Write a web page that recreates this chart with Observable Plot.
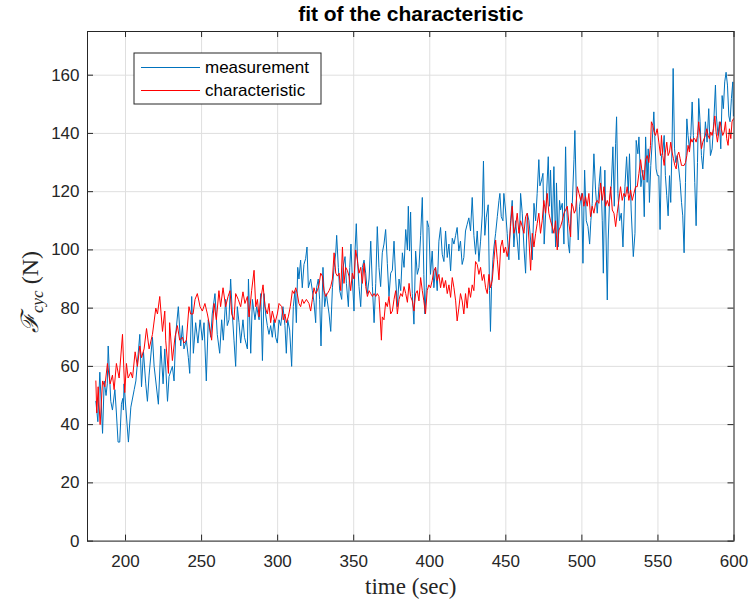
<!DOCTYPE html>
<html><head><meta charset="utf-8">
<script src="https://cdn.jsdelivr.net/npm/d3@7"></script>
<script src="https://cdn.jsdelivr.net/npm/@observablehq/plot@0.6"></script>
<style>
body{margin:0;background:#fff;}
#chart{width:751px;height:603px;}
</style></head><body><div id="chart"></div>
<script>
// [time (sec), force (N)]
const measurement = [
[180.5,48],[181.8,41],[183.1,58],[184.9,37],[186.0,55],[187.2,50],[188.0,54],[188.6,67],[190.3,48],[191.4,45],
[193.0,52],[194.0,44],[195.1,34],[196.2,34],[197.3,47],[198.2,49],[198.6,45],[199.0,54],[201.9,34],[203.5,46],
[205.7,52],[206.8,55],[209.4,71],[210.5,53],[211.8,65],[213.3,54],[214.4,48],[215.5,57],[217.7,70],[218.8,60],
[221.6,47],[223.2,67],[224.7,54],[225.8,66],[227.6,48],[228.6,56.5],[230.8,60],[231.9,55],[233.0,71],[234.7,80.5],
[236.3,67],[237.4,74],[238.4,66],[240.0,69],[241.3,63],[242.2,57.6],[243.5,84],[244.6,64.5],[246.1,75],[247.6,68],
[249.0,76],[250.5,69],[251.6,75],[253.1,55],[254.4,76],[256.0,70],[257.0,78],[258.8,85],[260.3,71],[261.9,64.5],
[263.2,76],[264.3,69],[265.8,83],[266.9,74],[268.0,76],[269.1,90],[270.2,78],[271.3,69],[272.4,60],[273.5,80.5],
[274.6,75],[275.7,68],[277.2,76],[278.2,70],[280.1,66],[280.8,90],[282.3,64.5],[283.4,83],[285.1,76],[286.2,80.5],
[287.8,76],[288.9,85],[290.0,62],[291.0,85],[292.1,78],[293.2,74],[294.3,71],[295.4,74],[296.5,70],[297.6,76],
[298.7,70],[299.8,68],[300.9,76],[302.0,74],[303.5,80.5],[304.8,74],[305.7,64.5],[306.6,76],[307.9,72.5],[309.2,60],
[310.3,80.5],[311.4,86],[312.3,75],[313.2,94],[314.0,90],[315.1,96.5],[316.2,87],[317.3,95],[318.4,97],[319.3,101],
[320.2,87],[321.7,90],[322.8,86],[323.9,82],[325.0,75],[325.6,87],[326.7,90],[327.6,83],[328.5,67],[329.8,94],
[330.9,80.5],[332.0,85],[333.8,78],[334.9,72],[336.0,87],[337.1,94],[338.2,99],[338.8,105],[339.9,94],[340.8,86],
[342.1,83],[343.0,94],[344.3,97.7],[345.2,88.5],[346.5,80.5],[347.4,94],[348.2,102],[349.1,90],[350.2,79],[350.9,100],
[351.7,109],[352.6,95.4],[353.5,87.4],[354.6,80.5],[355.7,94],[356.8,96.5],[357.9,92],[359.0,85],[360.1,90],[361.2,103],
[362.3,87.4],[363.4,75],[364.5,88.5],[365.5,108],[366.6,94],[367.7,87.4],[368.8,99],[369.9,102],[371.0,107],[372.1,95.4],
[373.2,84],[374.3,92],[375.4,93],[376.5,103],[377.6,90],[378.7,80.5],[379.8,90],[380.9,86],[382.0,99],[383.1,94],
[384.2,107],[385.3,100],[385.9,115],[386.7,99.6],[387.4,113],[388.5,85],[389.6,74.5],[390.7,99.6],[391.8,91.6],[392.9,94],
[394.0,105],[395.1,118],[396.1,91.6],[396.8,78],[397.7,87],[398.3,110],[399.4,107.7],[400.5,91.6],[401.6,99.6],[402.7,87],
[403.8,94],[404.9,86],[406.0,103],[407.1,107.7],[408.2,98.5],[409.3,96],[410.4,106.5],[411.5,97.4],[412.6,102],[413.7,92.8],
[414.8,104],[415.9,102],[417.0,105],[418.0,107.7],[419.1,99.6],[420.2,103],[421.3,95],[422.4,97.4],[423.5,106.5],[424.6,108.8],
[425.7,111],[426.8,106.5],[427.9,118],[429.0,105],[430.1,98.5],[431.2,106.5],[432.3,96],[433.4,103],[434.5,112],[435.3,130.5],
[436.2,105],[437.1,111],[438.4,115.5],[439.3,86],[439.9,72],[440.6,87.4],[441.5,96.6],[442.2,101],[443.3,105.7],[444.4,111.4],
[445.5,117],[446.1,119.4],[447.0,111.4],[448.1,110],[448.7,119.4],[449.8,113.7],[450.9,105.7],[452.0,96.6],[453.1,110],[454.2,117],
[455.3,101],[456.4,110],[457.5,103.4],[458.6,96.6],[459.7,119.4],[460.8,112.6],[461.9,101],[463.0,92],[464.1,112.6],[465.2,110],
[466.3,103.4],[467.4,96.6],[468.5,116],[469.6,110],[470.6,119.4],[471.7,131],[472.4,122],[473.5,124],[474.4,126.3],[475.2,102],
[476.6,117],[477.9,132],[478.7,115],[479.4,127.4],[480.5,105.7],[481.6,128.6],[482.7,101],[483.3,123],[484.4,101],[485.3,117],
[486.0,113.7],[487.1,116],[488.2,102],[489.3,135.4],[490.0,115],[491.1,102],[491.9,98.9],[492.8,112.6],[493.7,116],[494.8,131],
[495.4,141],[496.3,119.4],[497.6,103.4],[498.5,115],[499.8,119.4],[500.7,95.4],[501.8,127.4],[502.9,110],[504.0,108],[505.1,102],
[505.9,110],[506.8,116],[507.9,133],[509.0,120.6],[510.1,112.6],[511.2,121.7],[512.3,128.6],[513.4,110],[514.1,92],[515.1,127.4],
[516.0,101],[516.7,82.8],[517.3,103.4],[518.2,117],[519.3,121.7],[520.4,135.4],[521.3,115],[522.2,136.6],[522.8,145.7],[523.7,119.4],
[524.8,110],[525.9,112.6],[527.0,101],[528.3,121.7],[529.4,132],[530.5,119.4],[531.3,133],[532.4,113.7],[533.8,97.7],[534.9,105.7],
[535.7,137.6],[536.8,133],[537.5,138.8],[538.8,121.7],[540.1,127.4],[541.0,111.4],[541.9,138.8],[542.9,123.2],[543.6,134.7],[544.4,116.3],
[545.3,129],[546.2,137],[547.3,147.4],[547.9,139.3],[548.8,127.8],[549.7,125.5],[550.6,125.5],[551.4,107],[552.3,132.4],[553.2,133.6],
[554.1,139.3],[554.9,125.5],[555.8,118.6],[556.7,111.7],[557.6,125.5],[558.4,116.3],[559.3,137],[560.0,162.3],[560.9,134.7],[561.7,130],
[562.6,132.4],[563.7,127.8],[564.6,123.2],[565.5,116.3],[566.3,111.7],[567.2,99],[568.1,123.2],[569.0,145],[569.8,139.3],[570.7,134.7],
[571.6,139.3],[572.5,150.8],[573.3,139.3],[574.2,123.2],[575.1,108.3],[576.0,130],[576.8,152],[577.7,144],[578.6,132.4],[579.5,127.8],
[580.3,134.7],[581.2,144],[582.3,137],[583.4,148.5],[584.5,132.4],[585.6,134.7],[586.7,144],[587.8,156.6],[588.4,146],[589.5,139.3],
[590.4,144],[591.3,134.7],[592.2,153],[593.0,148.5],[593.9,157.7],[594.8,161],[595.7,156.6],[596.6,146],[597.4,144],[598.3,152],
[599.2,157.7],[599.6,146]
];
const characteristic = [
[180.5,55],[181.1,44],[182.0,53],[183.3,40],[184.9,55],[186.4,53],[188.1,61],[189.9,54],[191.4,57],[192.5,52],
[194.0,61],[195.8,56],[198.0,71],[199.5,51],[200.6,61],[201.7,56],[203.5,58],[204.6,56],[206.3,65],[207.8,60],
[209.4,67],[210.5,63],[212.2,66],[213.8,73],[215.5,66],[217.7,71],[219.9,80],[221.0,78],[222.5,84],[224.3,72],
[225.8,79],[226.4,69],[228.2,57.6],[229.0,75],[230.8,62],[232.5,70],[234.1,74],[235.6,69],[237.4,70],[238.4,68],
[240.0,69],[241.7,80.5],[242.8,78],[244.4,78],[245.7,83],[247.2,85],[249.0,80.5],[250.5,79],[252.2,81.6],[253.8,78],
[254.9,75],[256.6,69],[258.2,81.6],[259.7,76],[261.4,86],[262.5,80.5],[264.1,87],[265.8,80.5],[267.4,84],[268.7,86],
[269.8,78],[271.3,76],[272.4,85],[274.1,83],[275.7,80.5],[277.2,85.6],[278.5,81.6],[280.1,84],[281.2,77],[282.9,86],
[284.5,93],[285.6,80.5],[286.7,83],[287.8,77],[288.9,83],[290.4,88],[291.7,80.5],[293.2,78],[294.3,81.6],[295.4,75],
[296.5,79],[298.3,75],[299.8,78],[300.9,81.6],[302.7,80.5],[303.7,76],[304.8,78],[305.7,75],[307.0,77],[308.3,80.5],
[309.7,86],[310.8,85],[311.9,87],[312.9,85],[314.0,81.6],[315.1,80.5],[316.2,83],[317.3,81.6],[318.9,83],[320.6,81.6],
[321.7,79],[322.8,83],[323.9,87],[325.0,85],[326.1,86],[327.2,88],[328.3,92],[329.4,91],[330.5,86],[331.6,84],
[332.7,85],[333.8,86],[334.9,87.4],[336.0,90],[337.1,99],[338.2,92],[339.3,91],[340.4,92],[341.5,86],[342.6,101],
[343.6,88.5],[344.7,94],[345.8,93],[346.9,91],[348.0,86],[349.1,92],[350.2,90],[351.3,100],[352.4,96.5],[353.5,92],
[354.6,94],[355.7,88.5],[356.8,95.4],[357.9,87.4],[359.0,84],[360.1,86],[361.2,85],[362.3,84],[363.4,85],[364.5,84],
[365.5,85],[366.6,84],[367.3,78],[368.2,69],[368.8,77],[369.9,76],[371.0,82],[372.1,80.5],[373.2,84],[374.3,78],
[375.4,79],[376.5,83],[377.6,86],[378.7,78],[379.8,83],[380.9,85],[382.0,84],[383.1,87.4],[384.2,85],[385.3,82],
[386.4,88.5],[387.4,84],[388.5,82.5],[389.6,79],[390.7,85],[391.8,86],[392.9,82.5],[394.0,90.5],[395.1,86],[396.1,82.5],
[397.2,78],[398.3,86],[399.4,88],[400.5,87],[401.6,89.5],[402.7,92.8],[403.8,94],[404.9,89.5],[406.0,91.6],[407.1,87],
[408.2,90.5],[409.3,87],[410.4,89.5],[411.5,85],[412.6,88],[413.7,83.7],[414.8,90.5],[415.9,87],[417.0,82.5],[418.0,75.6],
[419.1,80],[420.2,85],[421.3,82.5],[422.4,78],[423.5,85],[424.6,80],[425.7,87],[426.8,83.7],[427.9,88],[429.0,86],
[430.1,96],[431.2,95],[432.3,91.6],[433.4,94],[434.5,89.5],[435.6,91.6],[436.7,87],[437.8,85],[438.9,91.6],[439.9,87],
[441.1,89.7],[442.2,96.6],[443.3,103.4],[444.4,96.6],[445.5,89.7],[446.6,101],[447.7,103.4],[448.7,99],[449.8,101],[450.9,97.7],
[452.0,101],[453.1,108],[454.2,115],[455.3,105.7],[456.4,108],[457.5,112.6],[458.6,105.7],[459.7,110],[460.8,108],[461.9,105.7],
[463.0,111.4],[464.1,112.6],[465.2,103.4],[466.3,93],[467.4,105.7],[468.5,101],[469.6,105.7],[470.6,109],[471.7,112.6],[472.8,105.7],
[473.9,110],[475.0,117],[476.1,112.6],[477.2,119.4],[478.3,112.6],[479.4,110],[480.5,108],[481.6,105.7],[482.7,110],[483.8,100],
[484.9,106.8],[486.0,108],[487.1,110],[488.2,112.6],[489.3,113.7],[490.4,115],[491.5,109],[492.6,104.5],[493.2,116],[494.1,115],
[495.0,112.6],[495.9,113.7],[497.0,121.7],[498.1,119.4],[499.2,117],[500.3,119.4],[501.3,115],[502.4,118.3],[503.5,115],[504.6,119.4],
[505.7,111.4],[506.8,115],[507.9,112.6],[509.0,116],[510.1,117],[511.2,116],[512.3,123],[513.4,117],[514.5,121.7],[515.6,115],
[516.7,117],[517.8,115],[518.9,121.7],[520.0,113.7],[521.1,112.6],[522.2,108],[523.2,112.6],[524.3,117],[525.4,121.7],[526.5,117],
[527.6,119.4],[528.7,118.3],[529.8,121.7],[530.9,117],[532.0,120.6],[533.1,117],[534.2,119.4],[535.3,121.7],[536.4,121.7],[537.5,126.3],
[538.6,131],[539.7,126.3],[540.8,124],[541.9,131],[542.9,132.4],[544.0,130],[545.1,135.9],[545.7,144],[546.6,142.8],[547.5,140.5],
[548.4,139.3],[549.5,141.6],[550.6,137],[551.7,132.4],[552.3,139.3],[553.2,132.4],[554.1,129],[554.9,133.6],[555.8,137],[556.7,132.4],
[557.6,133.6],[558.4,137],[559.3,133.6],[560.2,131.3],[561.1,129],[562.0,127.8],[562.8,132.4],[563.7,133.6],[564.6,131.3],[565.5,129],
[566.3,129],[567.2,129],[568.1,130],[569.0,132.4],[569.8,135.9],[570.7,133.6],[571.6,138.2],[572.5,137],[573.3,138.2],[574.2,138.2],
[575.1,137],[576.0,139.3],[576.8,144],[577.7,139.3],[578.6,134.7],[579.5,137],[580.3,138.2],[581.2,139.3],[582.1,141.6],[583.0,139.3],
[583.8,138.2],[584.7,140.5],[585.6,139.3],[586.5,141.6],[587.4,146],[588.2,140.5],[589.1,137],[590.0,140.5],[590.9,144],[591.7,141.6],
[592.6,139.3],[593.5,140.5],[594.4,144],[595.2,138.2],[596.1,135.9],[597.0,141.6],[597.9,138.2],[598.7,144],[599.6,145]
];
const xTicks = [200, 250, 300, 350, 400, 450, 500, 550, 600];
const yTicks = [0, 20, 40, 60, 80, 100, 120, 140, 160];
const seriesNames = ["measurement", "characteristic"];
const seriesColors = ["#0072BD", "#FF0000"];
const titleText = "fit of the characteristic";
const xLabel = "time (sec)";

const sans = "'Liberation Sans', Arial, Helvetica, sans-serif";
const serif = "'Liberation Serif', 'Times New Roman', serif";
const axisColor = "#262626";
const gridColor = "#dfdfdf";
const plotH = 603 - 31 - 62.4, plotW = 751 - 87 - 17.5;
const tickLen = 6;

const plot = Plot.plot({
  width: 751, height: 603,
  marginLeft: 87, marginRight: 17.5, marginTop: 31, marginBottom: 62.4,
  x: {domain: [175, 600]},
  y: {domain: [0, 175]},
  style: {fontFamily: sans, fontSize: "17px", color: axisColor, background: "white", overflow: "visible"},
  marks: [
    Plot.gridX(xTicks, {stroke: gridColor, strokeOpacity: 1}),
    Plot.gridY(yTicks, {stroke: gridColor, strokeOpacity: 1}),
    Plot.line(measurement, {x: d => d[0], y: d => d[1], stroke: seriesColors[0], strokeWidth: 1}),
    Plot.line(characteristic, {x: d => d[0], y: d => d[1], stroke: seriesColors[1], strokeWidth: 1}),
    Plot.tickX(xTicks, {x: d => d, stroke: axisColor, insetBottom: plotH - tickLen}),
    Plot.tickX(xTicks, {x: d => d, stroke: axisColor, insetTop: plotH - tickLen}),
    Plot.tickY(yTicks, {y: d => d, stroke: axisColor, insetRight: plotW - tickLen}),
    Plot.tickY(yTicks, {y: d => d, stroke: axisColor, insetLeft: plotW - tickLen}),
    Plot.axisX(xTicks, {tickSize: 0, tickPadding: 14, label: null, fill: axisColor, fontSize: 17}),
    Plot.axisY(yTicks, {tickSize: 0, tickPadding: 8, label: null, fill: axisColor, fontSize: 17}),
    Plot.frame({stroke: axisColor, strokeWidth: 1}),
    Plot.text([titleText], {text: d => d, frameAnchor: "top", lineAnchor: "middle", dy: -17, fontWeight: "bold", fontSize: 21, fill: "#000"}),
    Plot.text([xLabel], {text: d => d, frameAnchor: "bottom", lineAnchor: "middle", dy: 46, fontFamily: serif, fontSize: 23, fill: axisColor})
  ]
});
document.getElementById("chart").appendChild(plot);

const svg = d3.select(plot);
// y-axis label with subscript
const yl = svg.append("text")
  .attr("transform", "translate(38,292) rotate(-90)")
  .attr("text-anchor", "middle")
  .attr("font-family", serif)
  .attr("font-size", 24)
  .attr("fill", axisColor);
yl.append("tspan").attr("font-style", "italic").text("ℱ");
yl.append("tspan").attr("font-style", "italic").attr("font-size", 17).attr("dy", 5).text("cyc");
yl.append("tspan").attr("dy", -5).text(" (N)");

// legend
const lg = svg.append("g").attr("text-anchor", "start");
lg.append("rect").attr("x", 134).attr("y", 53).attr("width", 187).attr("height", 51)
  .attr("fill", "white").attr("stroke", axisColor).attr("stroke-width", 1);
seriesNames.forEach((name, i) => {
  const yy = 67.5 + i * 23;
  lg.append("line").attr("x1", 141).attr("x2", 200).attr("y1", yy).attr("y2", yy)
    .attr("stroke", seriesColors[i]).attr("stroke-width", 1);
  lg.append("text").attr("x", 205).attr("y", yy).attr("dy", "0.35em").attr("text-anchor", "start")
    .attr("font-family", sans).attr("font-size", 17).attr("fill", "#000").text(name);
});
</script>
</body></html>
